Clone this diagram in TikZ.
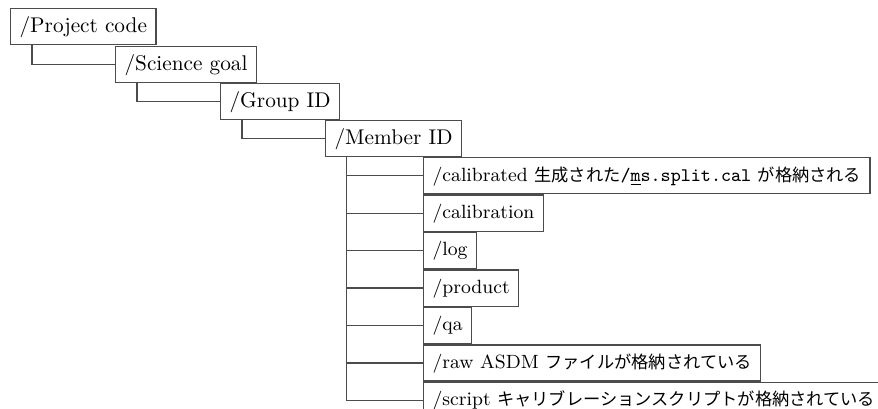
\documentclass[tikz,border=0pt]{standalone}
\usepackage{fontspec}
\newfontfamily\jpfont[Scale=0.9]{Noto Sans CJK JP}
\usetikzlibrary{positioning}
\tikzset{
  dirbox/.style={draw=black!70, line width=0.6pt, anchor=north west, inner xsep=4.2pt,
    minimum height=17pt, text height=7pt, text depth=2pt},
  subbox/.style={dirbox, font=\fontsize{9}{11}\selectfont},
  conn/.style={draw=black!70, line width=0.6pt}
}
\begin{document}
\begin{tikzpicture}[x=0.47pt,y=-0.47pt]
	\useasboundingbox (0,0) rectangle (878,409);
	% top levels
	\node[dirbox] (pc) at (10,8) {/Project code};
	\node[dirbox] (sg) at (115,46) {/Science goal};
	\node[dirbox] (gid) at (220,83) {/Group ID};
	\node[dirbox] (mid) at (325,120) {/Member ID};
	\draw[conn] ([xshift=10.3pt]pc.south west) |- (sg.west);
	\draw[conn] ([xshift=10.3pt]sg.south west) |- (gid.west);
	\draw[conn] ([xshift=10.3pt]gid.south west) |- (mid.west);
	% contents of the member directory
	\node[subbox] (cald) at (423,157) {/calibrated {\jpfont 生成された}\texttt{/\underline{m}s.split.cal} {\jpfont が格納される}};
	\node[subbox] (calb) at (cald.south west) {/calibration};
	\node[subbox] (log) at (calb.south west) {/log};
	\node[subbox] (prod) at (log.south west) {/product};
	\node[subbox] (qa) at (prod.south west) {/qa};
	\node[subbox] (raw) at (qa.south west) {/raw ASDM {\jpfont ファイルが格納されている}};
	\node[subbox] (scr) at (raw.south west) {/script {\jpfont キャリブレーションスクリプトが格納されている}};
	\foreach \c in {cald,calb,log,prod,qa,raw,scr}
		\draw[conn] ([xshift=10pt]mid.south west) |- (\c.west);
\end{tikzpicture}
\end{document}
